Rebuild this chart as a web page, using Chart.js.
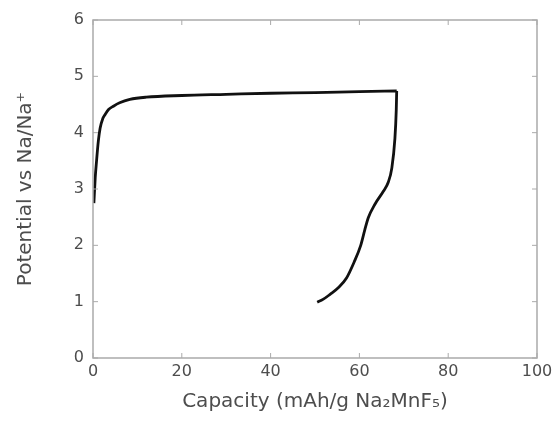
<!DOCTYPE html>
<html>
<head>
<meta charset="utf-8">
<script src="https://cdn.jsdelivr.net/npm/chart.js@4"></script>
<style>
  html, body { margin: 0; padding: 0; background: #fff; }
  #wrap { width: 559px; height: 426px; }
</style>
</head>
<body>
<div id="wrap"><canvas id="chart" width="559" height="426"></canvas></div>
<script>
// charge curve (capacity rising)
const chargeCapacity = [0.2, 0.5, 0.8, 1.2, 1.6, 2.2, 2.7, 3.5, 4.6, 6, 8.3, 12, 20, 30, 40, 50, 60, 68.4];
const chargePotential = [2.75, 3.2, 3.5, 3.85, 4.08, 4.25, 4.32, 4.41, 4.47, 4.53, 4.59, 4.63, 4.66, 4.68, 4.70, 4.71, 4.73, 4.74];
// discharge curve, listed from the low end (1 V) up to the turning point
const dischargeCapacity = [50.5, 51.8, 53.4, 55.3, 57.1, 58.8, 60.3, 61.2, 62, 63.5, 65.4, 66.5, 67.3, 68.0, 68.3, 68.4];
const dischargePotential = [0.99, 1.04, 1.13, 1.25, 1.42, 1.7, 2.0, 2.27, 2.49, 2.73, 2.96, 3.12, 3.37, 3.9, 4.4, 4.74];
const xTicks = [0, 20, 40, 60, 80, 100];
const yTicks = [0, 1, 2, 3, 4, 5, 6];

const toPoints = (xs, ys) => xs.map((x, i) => ({ x: x, y: ys[i] }));

const frameColor = '#aaaaaa';
const textColor = '#4d4d4d';
const fontFamily = '"DejaVu Sans", sans-serif';

// box around plot + short inward ticks on all four sides
const framePlugin = {
    id: 'frame',
    afterDraw(chart) {
        const { ctx, chartArea: a, scales } = chart;
        ctx.save();
        ctx.strokeStyle = frameColor;
        ctx.lineWidth = 1.5;
        ctx.strokeRect(a.left, a.top, a.right - a.left, a.bottom - a.top);
        ctx.lineWidth = 1;
        const len = 5;
        xTicks.forEach(v => {
            const px = scales.x.getPixelForValue(v);
            ctx.beginPath();
            ctx.moveTo(px, a.bottom); ctx.lineTo(px, a.bottom - len);
            ctx.moveTo(px, a.top); ctx.lineTo(px, a.top + len);
            ctx.stroke();
        });
        yTicks.forEach(v => {
            const py = scales.y.getPixelForValue(v);
            ctx.beginPath();
            ctx.moveTo(a.left, py); ctx.lineTo(a.left + len, py);
            ctx.moveTo(a.right, py); ctx.lineTo(a.right - len, py);
            ctx.stroke();
        });
        ctx.restore();
    }
};

const lineStyle = {
    borderColor: '#111111',
    borderWidth: 2.8,
    pointRadius: 0,
    cubicInterpolationMode: 'monotone',
    fill: false
};

new Chart(document.getElementById('chart'), {
    type: 'line',
    data: {
        datasets: [
            Object.assign({ data: toPoints(chargeCapacity, chargePotential) }, lineStyle),
            Object.assign({ data: toPoints(dischargeCapacity, dischargePotential) }, lineStyle)
        ]
    },
    options: {
        responsive: false,
        animation: false,
        layout: { padding: { top: 20, right: 22, left: 0, bottom: 0 } },
        plugins: { legend: { display: false }, tooltip: { enabled: false } },
        scales: {
            x: {
                type: 'linear',
                min: 0, max: 100,
                afterBuildTicks: s => { s.ticks = xTicks.map(v => ({ value: v })); },
                afterFit: s => { s.height = 68; },
                grid: { display: false },
                border: { display: false },
                ticks: { color: textColor, font: { family: fontFamily, size: 16 }, padding: -4 },
                title: {
                    display: true,
                    text: 'Capacity (mAh/g Na₂MnF₅)',
                    color: textColor,
                    font: { family: fontFamily, size: 20 },
                    padding: { top: 0, bottom: 12 }
                }
            },
            y: {
                min: 0, max: 6,
                afterBuildTicks: s => { s.ticks = yTicks.map(v => ({ value: v })); },
                afterFit: s => { s.width = 93; },
                grid: { display: false },
                border: { display: false },
                ticks: { color: textColor, font: { family: fontFamily, size: 16 }, padding: 1 },
                title: {
                    display: true,
                    text: 'Potential vs Na/Na⁺',
                    color: textColor,
                    font: { family: fontFamily, size: 20 },
                    padding: { top: 14, bottom: 0 }
                }
            }
        }
    },
    plugins: [framePlugin]
});
</script>
</body>
</html>
